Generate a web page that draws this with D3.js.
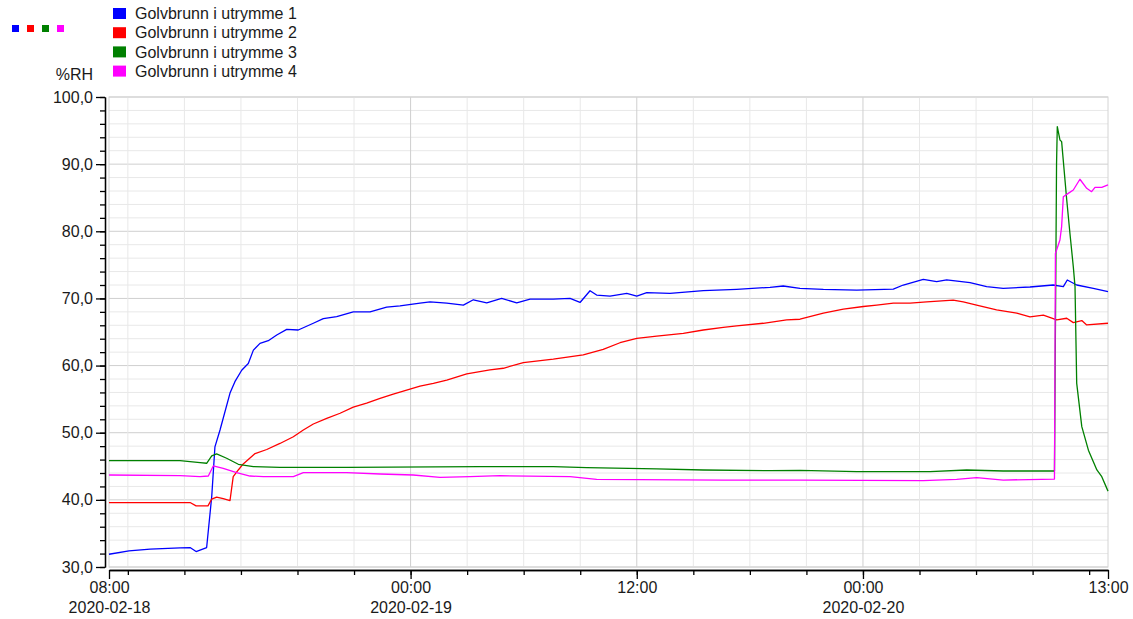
<!DOCTYPE html>
<html>
<head>
<meta charset="utf-8">
<script src="https://cdn.jsdelivr.net/npm/d3@7"></script>
<style>
  body { margin: 0; background: #fff; }
  svg { display: block; font-family: "Liberation Sans", Arial, sans-serif; }
</style>
</head>
<body>
<svg id="chart" width="1133" height="619"></svg>
<script>
// series names + colours
const names = ["Golvbrunn i utrymme 1", "Golvbrunn i utrymme 2", "Golvbrunn i utrymme 3", "Golvbrunn i utrymme 4"];
const colors = ["#0000ff", "#ff0000", "#008000", "#ff00ff"];

// time = hours after 2020-02-18 08:00, value = %RH
const blueHours = [0, 1.06, 2.18, 3.77, 4.30, 4.62, 5.18, 5.45, 5.62, 5.89, 6.42, 6.68, 7.04, 7.39, 7.66, 8.01, 8.45, 8.90, 9.43, 10.04, 10.84, 11.37, 12.08, 12.96, 13.85, 14.73, 15.44, 16.50, 17.03, 17.92, 18.80, 19.33, 20.04, 20.83, 21.63, 22.34, 23.57, 24.46, 24.99, 25.52, 25.87, 26.58, 27.47, 28.00, 28.53, 29.76, 31.53, 33.30, 35.07, 35.77, 36.66, 37.90, 39.67, 41.61, 42.14, 43.20, 43.91, 44.44, 45.68, 46.56, 47.44, 48.86, 50.09, 50.63, 50.84, 51.34, 52.22, 53.0];
const blueValues = [31.9, 32.4, 32.65, 32.85, 32.9, 32.3, 32.9, 40.5, 47.9, 50.4, 55.9, 57.6, 59.3, 60.3, 62.3, 63.3, 63.7, 64.55, 65.4, 65.3, 66.3, 67.0, 67.3, 68.0, 68.0, 68.7, 68.9, 69.3, 69.5, 69.3, 69.0, 69.8, 69.35, 70.0, 69.35, 69.9, 69.9, 70.0, 69.4, 71.15, 70.5, 70.35, 70.75, 70.35, 70.85, 70.75, 71.15, 71.35, 71.65, 71.85, 71.5, 71.35, 71.25, 71.4, 72.0, 72.85, 72.5, 72.75, 72.35, 71.75, 71.5, 71.7, 72.0, 71.75, 72.75, 72.0, 71.5, 71.0];

const redHours = [0, 4.30, 4.62, 5.25, 5.45, 5.71, 6.06, 6.42, 6.59, 6.86, 7.12, 7.75, 8.37, 9.07, 9.78, 10.31, 10.84, 11.55, 12.26, 12.96, 13.67, 14.38, 15.08, 15.79, 16.50, 17.21, 17.92, 18.98, 20.21, 20.92, 21.98, 23.57, 25.16, 26.22, 27.11, 28.00, 29.06, 30.47, 31.53, 32.59, 33.30, 34.71, 35.95, 36.66, 37.90, 38.96, 40.02, 40.73, 41.61, 42.50, 43.38, 44.79, 45.32, 46.03, 47.09, 48.16, 48.86, 49.57, 50.28, 50.81, 51.16, 51.61, 51.87, 53.0];
const redValues = [39.6, 39.6, 39.1, 39.1, 40.1, 40.4, 40.2, 39.9, 43.45, 44.45, 45.35, 46.9, 47.5, 48.4, 49.4, 50.4, 51.3, 52.15, 52.9, 53.8, 54.4, 55.1, 55.75, 56.35, 56.95, 57.35, 57.85, 58.75, 59.35, 59.6, 60.45, 60.95, 61.6, 62.4, 63.4, 64.05, 64.4, 64.8, 65.3, 65.7, 65.9, 66.3, 66.8, 66.9, 67.8, 68.4, 68.8, 69.0, 69.3, 69.3, 69.5, 69.75, 69.5, 69.0, 68.3, 67.8, 67.25, 67.5, 66.8, 67.05, 66.4, 66.7, 66.05, 66.3];

const greenHours = [0, 3.77, 4.83, 5.18, 5.45, 5.71, 6.24, 6.86, 7.66, 9.07, 12.61, 19.68, 23.57, 25.34, 29.06, 31.53, 35.07, 36.66, 39.67, 43.56, 45.50, 47.44, 50.16, 50.27, 50.31, 50.45, 50.54, 50.81, 50.98, 51.16, 51.25, 51.34, 51.61, 51.96, 52.41, 52.67, 53.0];
const greenValues = [45.85, 45.85, 45.55, 45.45, 46.55, 46.85, 46.2, 45.3, 44.95, 44.85, 44.85, 44.95, 44.95, 44.8, 44.6, 44.45, 44.35, 44.4, 44.2, 44.2, 44.45, 44.3, 44.3, 90.0, 95.6, 93.6, 93.35, 84.7, 79.7, 74.7, 71.75, 57.35, 50.9, 47.4, 44.45, 43.45, 41.3];

const magentaHours = [0, 3.77, 4.83, 5.27, 5.53, 6.06, 6.77, 7.48, 8.19, 9.78, 10.31, 12.61, 14.38, 16.14, 17.56, 19.15, 20.74, 24.46, 25.87, 32.59, 36.66, 43.20, 44.97, 46.03, 47.44, 50.16, 50.21, 50.45, 50.54, 50.63, 50.89, 51.16, 51.51, 51.87, 52.13, 52.31, 52.67, 53.0];
const magentaValues = [43.7, 43.6, 43.45, 43.55, 45.05, 44.7, 44.05, 43.55, 43.45, 43.45, 44.05, 44.05, 43.85, 43.7, 43.35, 43.45, 43.6, 43.45, 43.05, 42.95, 42.95, 42.85, 43.05, 43.3, 42.95, 43.1, 76.7, 78.7, 80.7, 85.15, 85.65, 86.15, 87.75, 86.4, 85.9, 86.55, 86.55, 86.9];

const yMajorTicks = [30, 40, 50, 60, 70, 80, 90, 100];
const yUnit = "%RH";

const t0 = new Date(2020, 1, 18, 8, 0);
const t1 = new Date(2020, 1, 20, 13, 0);
const toDate = h => new Date(t0.getTime() + h * 3600e3);

const series = [
  {hours: blueHours, values: blueValues},
  {hours: redHours, values: redValues},
  {hours: greenHours, values: greenValues},
  {hours: magentaHours, values: magentaValues}
].map((s, i) => ({
  name: names[i],
  color: colors[i],
  points: s.hours.map((h, j) => ({t: toDate(h), v: s.values[j]}))
}));

const svg = d3.select("#chart");
const plotL = 109, plotR = 1108, plotT = 97, plotB = 567;

const x = d3.scaleTime().domain([t0, t1]).range([plotL, plotR]);
const y = d3.scaleLinear().domain([30, 100]).range([plotB, plotT]);

// labelled ticks on the time axis
const majorX = [t0, new Date(2020, 1, 19, 0), new Date(2020, 1, 19, 12), new Date(2020, 1, 20, 0), t1];
const minorX = d3.timeHour.every(3).range(t0, t1);

const minorY = d3.range(30, 100.01, 2);
const gridX = minorX.filter(d => x(d) > plotL + 1 && x(d) < plotR - 25);
const isMajorTime = d => majorX.some(m => m.getTime() === d.getTime());

// grid
const grid = svg.append("g");
grid.selectAll(".gy").data(minorY).join("line")
  .attr("x1", plotL).attr("x2", plotR)
  .attr("y1", d => y(d)).attr("y2", d => y(d))
  .attr("stroke", d => d % 10 === 0 ? "#cfcfcf" : "#e8e8e8");
grid.selectAll(".gx").data(gridX).join("line")
  .attr("x1", d => x(d)).attr("x2", d => x(d))
  .attr("y1", plotT).attr("y2", plotB)
  .attr("stroke", d => isMajorTime(d) ? "#cfcfcf" : "#e8e8e8");
grid.append("rect")
  .attr("x", plotL).attr("y", plotT)
  .attr("width", plotR - plotL).attr("height", plotB - plotT)
  .attr("fill", "none").attr("stroke", "#d4d4d4");

// y axis
const fmtY = d => d.toFixed(1).replace(".", ",");
svg.append("g").attr("transform", "translate(105,0)")
  .call(d3.axisLeft(y).tickValues(minorY).tickSize(5).tickSizeOuter(0).tickFormat(""));
svg.append("g").attr("transform", "translate(105,0)")
  .call(d3.axisLeft(y).tickValues(yMajorTicks).tickSize(9).tickSizeOuter(0).tickFormat(fmtY));

// x axis
svg.append("g").attr("transform", "translate(0,570)")
  .call(d3.axisBottom(x).tickValues(minorX).tickSize(5).tickSizeOuter(0).tickFormat(""));
const xa = svg.append("g").attr("transform", "translate(0,570)")
  .call(d3.axisBottom(x).tickValues(majorX).tickSize(9).tickSizeOuter(0).tickFormat(d3.timeFormat("%H:%M")));
xa.selectAll(".tick text").each(function(d) {
  if (d.getTime() === t1.getTime() || d.getHours() === 12) return;
  d3.select(this).append("tspan")
    .attr("x", 0).attr("dy", "1.2em")
    .text(d3.timeFormat("%Y-%m-%d")(d));
});

svg.selectAll(".tick text").attr("font-size", 16).attr("font-family", "Liberation Sans, Arial, sans-serif").attr("fill", "#1a1a1a");
svg.selectAll(".domain, .tick line").attr("stroke", "#000").attr("stroke-width", 1.3);

// lines
const line = d3.line().x(d => x(d.t)).y(d => y(d.v));
svg.append("g").selectAll("path").data(series).join("path")
  .attr("d", d => line(d.points))
  .attr("fill", "none")
  .attr("stroke", d => d.color)
  .attr("stroke-width", 1.3)
  .attr("stroke-linejoin", "round");

// unit label
svg.append("text").attr("x", 93).attr("y", 80).attr("text-anchor", "end")
  .attr("font-size", 16).attr("fill", "#1a1a1a").text(yUnit);

// little colour squares, top left
svg.append("g").selectAll("rect").data(colors).join("rect")
  .attr("x", (d, i) => 12 + i * 15).attr("y", 25)
  .attr("width", 7).attr("height", 7).attr("fill", d => d);

// legend
const leg = svg.append("g").selectAll("g").data(series).join("g")
  .attr("transform", (d, i) => `translate(113,${8 + i * 19.2})`);
leg.append("rect").attr("width", 13).attr("height", 11).attr("fill", d => d.color);
leg.append("text").attr("x", 22).attr("y", 5.5).attr("dy", "0.35em")
  .attr("font-size", 16).attr("fill", "#1a1a1a").text(d => d.name);
</script>
</body>
</html>
